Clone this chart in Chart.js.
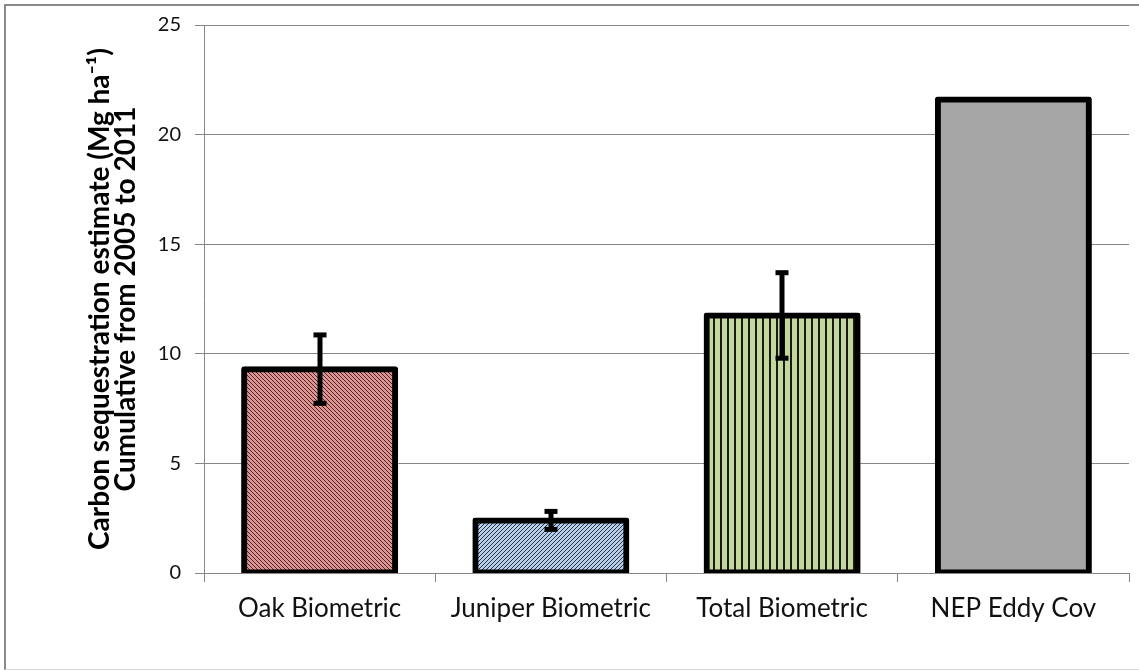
<!DOCTYPE html>
<html>
<head>
<meta charset="utf-8">
<script src="https://cdn.jsdelivr.net/npm/chart.js@4"></script>
<style>
  html, body { margin: 0; padding: 0; background: #fff; }
  #frame {
    position: absolute; left: 4px; top: 4px; width: 1140px; height: 663px;
    border-left: 2px solid #8a8a8a; border-top: 2px solid #8a8a8a;
    border-bottom: 1px solid #d9d9d9;
  }
  #wrap { position: absolute; left: 0; top: 0; width: 1133px; height: 662px; }
</style>
</head>
<body>
<div id="frame"><div id="wrap"><canvas id="chart"></canvas></div></div>
<script>
var categories = ["Oak Biometric", "Juniper Biometric", "Total Biometric", "NEP Eddy Cov"];
var values = [9.3, 2.4, 11.75, 21.6];
var errors = [1.56, 0.41, 1.95, 0];
var yTicks = [0, 5, 10, 15, 20, 25];

// small tiles for the hatch fills
function makePattern(size, bg, fg, draw) {
  var c = document.createElement("canvas");
  c.width = size; c.height = size;
  var g = c.getContext("2d");
  g.fillStyle = bg;
  g.fillRect(0, 0, size, size);
  g.fillStyle = fg;
  draw(g, size);
  return document.getElementById("chart").getContext("2d").createPattern(c, "repeat");
}

var oakFill = makePattern(4, "#d99694", "#5a2020", function (g, s) {
  for (var i = 0; i < s; i++) g.fillRect(i, i, 1, 1);
});
var juniperFill = makePattern(4, "#b9cde5", "#1f3550", function (g, s) {
  for (var i = 0; i < s; i++) g.fillRect(s - 1 - i, i, 1, 1);
});
var totalFill = makePattern(7, "#c3d69b", "#1a1a1a", function (g, s) {
  g.fillRect(0, 0, 2, s);
});

var errorBars = {
  id: "errorBars",
  afterDatasetsDraw: function (chart) {
    var ctx = chart.ctx;
    var meta = chart.getDatasetMeta(0);
    var y = chart.scales.y;
    ctx.save();
    ctx.fillStyle = "#000";
    meta.data.forEach(function (bar, i) {
      if (!errors[i]) return;
      var top = y.getPixelForValue(values[i] + errors[i]);
      var bot = y.getPixelForValue(values[i] - errors[i]);
      var x = Math.round(bar.x);
      ctx.fillRect(x - 2.5, top, 5, bot - top);
      ctx.fillRect(x - 6.5, top - 2.5, 13, 5);
      ctx.fillRect(x - 6.5, bot - 2.5, 13, 5);
    });
    ctx.restore();
  }
};

new Chart(document.getElementById("chart"), {
  type: "bar",
  data: {
    labels: categories,
    datasets: [{
      data: values,
      backgroundColor: [oakFill, juniperFill, totalFill, "#a6a6a6"],
      borderColor: "#000",
      borderWidth: 6,
      borderSkipped: false,
      borderRadius: 3,
      inflateAmount: 3,
      categoryPercentage: 1,
      barPercentage: 0.653
    }]
  },
  options: {
    responsive: true,
    maintainAspectRatio: false,
    animation: false,
    layout: { padding: { left: 0, top: 19, right: 10, bottom: 0 } },
    plugins: {
      legend: { display: false },
      tooltip: { enabled: false }
    },
    scales: {
      x: {
        grid: { drawOnChartArea: false, color: "#868686", tickLength: 9, offset: true },
        border: { color: "#868686" },
        ticks: { color: "#111", font: { family: "Lato", size: 26 }, padding: 11 },
        afterFit: function (scale) { scale.height = 95; }
      },
      y: {
        min: 0,
        max: 25,
        afterBuildTicks: function (scale) {
          scale.ticks = yTicks.map(function (v) { return { value: v }; });
        },
        grid: { color: "#868686", tickLength: 9 },
        border: { color: "#868686" },
        ticks: { color: "#111", font: { family: "Lato", size: 20 }, padding: 14 },
        title: {
          display: true,
          text: ["Carbon sequestration estimate (Mg ha\u207B\u00B9)", "Cumulative from 2005 to 2011"],
          color: "#000",
          font: { family: "Lato", size: 28, weight: "bold", lineHeight: 0.93 },
          padding: { top: 81, bottom: 0 }
        },
        afterFit: function (scale) {
          scale.width = 198;
          scale.paddingTop = 0;
          scale.paddingBottom = 0;
        }
      }
    }
  },
  plugins: [errorBars]
});
</script>
</body>
</html>
